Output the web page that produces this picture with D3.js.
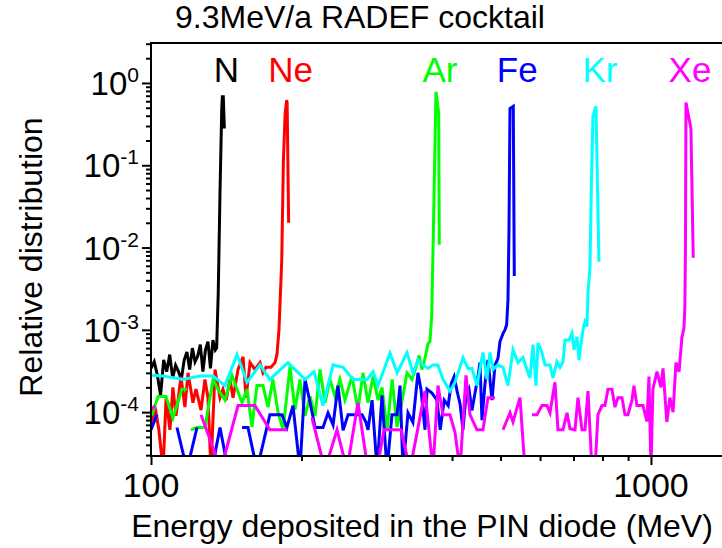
<!DOCTYPE html>
<html>
<head>
<meta charset="utf-8">
<script src="https://cdn.jsdelivr.net/npm/d3@7"></script>
<style>
  body { margin: 0; background: #fff; }
  text { font-family: "Liberation Sans", Arial, sans-serif; fill: #000; }
</style>
</head>
<body>
<div id="chart"></div>
<script>
// ---------------- data ----------------
var ionNames = ["N", "Ne", "Ar", "Fe", "Kr", "Xe"];
var ionColors = ["#000000", "#ff0000", "#00ff00", "#0000ff", "#00ffff", "#ff00ff"];

var nEnergy = [100,101.5,103,104.5,106,107.5,109,110.5,112,113.5,115,116.5,118,119.5,121,122.5,124,125.5,127,128.5,130,131.5,133,134.5,135.3,136.3,137.4,138.5,138.9,139.5,140.2];
var nValue = [3.4e-4,4.1e-4,2.8e-4,1.6e-4,4.3e-4,3.1e-4,5e-4,2.6e-4,3.7e-4,3.1e-4,2.5e-4,4.3e-4,5.4e-4,3.3e-4,6e-4,4.1e-4,4.8e-4,6.6e-4,3.1e-4,5.7e-4,7.2e-4,3.4e-4,7.5e-4,5.7e-4,6e-4,2.8e-3,0.046,0.47,0.68,0.68,0.28];

var neEnergy = [100,101.9,103.7,105.7,107.2,109.1,110.6,112.2,114.8,116.9,118.6,121.3,123,125.9,128.2,130,131.8,134.3,137.4,139.3,141.3,143.9,145.9,149.3,152.8,154.9,157.8,161.4,165.2,167.5,169.8,173.8,177,178.6,180.3,182.6,184,185.5,186.8,187.2,188.5];
var neValue = [6.1e-5,1.15e-4,6.1e-5,2e-5,1.5e-4,6.1e-5,2e-4,9e-5,2.7e-4,1.15e-4,3e-4,1.3e-4,1.9e-4,1.06e-4,2.5e-4,1.5e-4,2e-5,3.3e-4,1.5e-4,1.9e-4,1.4e-4,2.5e-4,1.5e-4,3.3e-4,4.7e-4,1.5e-4,4e-4,3.3e-4,4e-4,3e-4,3.5e-4,3.5e-4,4e-4,5e-4,1e-3,7e-3,0.116,0.43,0.62,0.57,0.02];

var arEnergy = [100.3,103.3,107.2,110.6,115.3,118,119.2,120.2,123.6,128.2,133.1,136.1,140.6,145.2,148.6,152.1,155.6,159.2,162.9,167.5,171.4,175.3,179.5,183.7,189.7,194,198.6,203.3,208,212.9,217.8,222.9,228,233.3,238.7,244.3,252.3,259.5,265.5,271.7,278.1,284.6,289.7,296.7,303.6,310.5,318,325.1,332.7,338.8,343.6,348.3,353.2,358.1,361.4,364.3,365.9,368.1,371.5,376.2,377.2];
var arValue = [9e-5,1.55e-4,1.55e-4,8.5e-5,1.9e-4,1.9e-4,null,6.1e-5,6.5e-5,6.5e-5,2.5e-4,1.9e-4,1.4e-4,2.8e-4,1.9e-4,1.3e-4,1.9e-4,6.6e-5,2.1e-4,2.1e-4,1.15e-4,2.5e-4,1e-4,6.1e-5,3.6e-4,1.07e-4,2.5e-4,9e-5,1.55e-4,9e-5,3.3e-4,1.3e-4,2.5e-4,1.55e-4,2.5e-4,1.4e-4,2.7e-4,1.07e-4,3e-4,1.3e-4,2.7e-4,1.4e-4,2e-4,6.1e-5,2.5e-4,6.6e-5,1.4e-4,3e-4,2.5e-4,3.5e-4,4.9e-4,3.3e-4,4.5e-4,6.8e-4,7.2e-4,1.5e-3,5.8e-3,0.038,0.78,0.43,0.0108];

var feEnergy = [100,102.8,107.6,112.7,118,123.6,128.2,132.4,137.4,142.6,147.2,152.1,156.3,162.9,172.9,182.8,187,192.3,198.6,203.3,208.1,212.9,220.8,226,231.3,236.6,242.2,247.8,264.3,269.2,271.7,276.8,283.3,289.7,296.5,303.4,310.5,314.8,319.2,326.6,334.1,341.9,346.7,353.2,356.5,364.8,373.2,378.8,385.9,393,398.4,403.9,409.5,415.2,420.7,426.6,432.5,438.5,444.6,450.8,455,459.2,465.6,472.1,480.9,487.5,494.3,498.9,505.8,510.5,514.4,517.6,520,522.4,530.4,532.9];
var feValue = [6.1e-5,9.3e-5,null,6.5e-5,2e-5,6.5e-5,null,2e-5,6.5e-5,2e-5,null,6.5e-5,6.5e-5,2e-5,9.3e-5,9.3e-5,6.5e-5,1.2e-4,2e-5,2.5e-4,1.3e-4,6.5e-5,6.5e-5,9.8e-5,7e-5,2.1e-4,6e-5,9.3e-5,9.3e-5,7.5e-5,6.1e-5,1.4e-4,2e-5,1.6e-4,2e-5,9.3e-5,9.3e-5,2.1e-4,2e-5,9.8e-5,7.5e-5,3e-4,1.9e-4,6.1e-5,1.9e-4,1.7e-4,1.4e-4,6.1e-5,1.4e-4,1.2e-4,2.2e-4,2.7e-4,1.8e-4,1.25e-4,6.1e-5,1.6e-4,1.9e-4,1.05e-4,1.7e-4,2.7e-4,4e-4,8e-5,2.2e-4,4.3e-4,1.4e-4,3.7e-4,4.5e-4,7.2e-4,9e-4,1e-3,1.15e-3,2.3e-3,0.016,0.49,0.52,4.5e-3];

var krEnergy = [100.3,105.7,115.9,125.3,133.1,140.6,148.6,155.6,165.2,172.9,187.9,203.3,211.9,220.8,231.3,242.2,253.5,270.4,278.1,284.6,300.6,310.7,325.1,334.3,342,350,358.1,366.4,374.8,383.7,396.3,405.5,420.7,430.5,438.5,448.7,461.3,469.9,476.4,483.1,494.3,505.8,517.6,529.7,542,554.6,564.9,572.8,580.8,588.8,594.3,605.3,613.8,628.1,636.8,648.6,657.7,666.8,673,685.5,695,701.5,711.2,717.8,731.1,737.9,744.7,748.2,755.1,760.3,765.6,776.2,787];
var krValue = [2.8e-4,2.75e-4,2.5e-4,2.75e-4,2.75e-4,2.1e-4,5e-4,2.3e-4,3.75e-4,2.5e-4,4e-4,2.5e-4,3.1e-4,1.2e-4,3.75e-4,3.5e-4,2.5e-4,2.5e-4,3.1e-4,2.1e-4,5.2e-4,3e-4,5.3e-4,3e-4,4.3e-4,3.75e-4,3.4e-4,3.75e-4,3.75e-4,2.5e-4,1.8e-4,2.3e-4,4.6e-4,3.4e-4,3.4e-4,2.1e-4,5.3e-4,2.5e-4,5.3e-4,3.3e-4,3.75e-4,3.5e-4,2.1e-4,5.7e-4,4e-4,4.6e-4,3.3e-4,2.6e-4,6.6e-4,2.1e-4,6.9e-4,5.3e-4,3.75e-4,3.75e-4,2.6e-4,4.1e-4,3.5e-4,4.1e-4,7.5e-4,7.5e-4,9.1e-4,5.7e-4,8.2e-4,4.3e-4,1e-3,1.25e-3,1.1e-3,2.8e-3,5.8e-3,0.066,0.4,0.52,6.7e-3];

var xeEnergy = [100,101.9,104.2,125.9,138,149.3,161.4,172.9,187.1,198.6,209.9,222.8,235.5,246.6,259.4,271.6,283.1,292.4,316.2,329.6,353.2,366.4,375,383.7,396.3,405.5,415,426.6,434.5,448.7,461.3,472.1,487.5,496.6,505.8,522.4,529.7,547,559.8,563.7,578.1,591.6,605.3,619.4,628.1,642.7,651.6,666.8,679.2,688.7,704.7,714.5,727.8,737.9,748.2,762.1,772.7,783.4,798,809.1,820.4,835.6,847.2,859,875,887.2,899.5,916.2,924.7,937.6,963.8,981.7,990.8,1000,1009,1028,1047,1057,1076,1091,1107,1122,1138,1153,1164,1169,1172,1175,1202,1215];
var xeValue = [1.07e-4,1.2e-4,null,9.3e-5,2e-5,1.2e-4,1.2e-4,6.1e-5,6.1e-5,null,8.5e-5,2e-5,6.1e-5,2e-5,1.3e-4,2e-5,2e-5,6.1e-5,6.1e-5,2e-5,1.8e-4,2e-5,2.1e-4,9.3e-5,9.3e-5,5.7e-5,2e-5,2.8e-4,9.3e-5,6.1e-5,6.1e-5,1.5e-4,1.5e-4,null,6.1e-5,9.8e-5,7.6e-5,1.5e-4,2e-5,null,9.3e-5,9.3e-5,1.2e-4,1.2e-4,9.8e-5,2.3e-4,6.1e-5,6.1e-5,9.8e-5,6.3e-5,6.1e-5,1.5e-4,6.1e-5,6.1e-5,1.8e-4,2e-5,2e-5,9.3e-5,1.2e-4,1.2e-4,1.9e-4,1.9e-4,1.15e-4,1.5e-4,1.5e-4,9.3e-5,9.3e-5,1.4e-4,2.1e-4,1.2e-4,1.2e-4,7.7e-5,2.7e-4,2e-5,1.9e-4,3.1e-4,2e-4,3.4e-4,7.6e-5,1.5e-4,1e-4,4e-4,3.1e-4,8e-4,1.05e-3,1.9e-3,9.3e-3,0.58,0.28,7.5e-3];

// tick values / labels
var xMajor = [100, 1000];
var xMajorLabels = ["100", "1000"];
var yMajor = [1e-4, 1e-3, 1e-2, 1e-1, 1];
var yExponents = ["-4", "-3", "-2", "-1", "0"];

var energies = [nEnergy, neEnergy, arEnergy, feEnergy, krEnergy, xeEnergy];
var values = [nValue, neValue, arValue, feValue, krValue, xeValue];

// ---------------- layout ----------------
var svgWidth = 722;
var svgHeight = 548;
var margin = {top: 43, right: 0, bottom: 92, left: 151};
var width = svgWidth - margin.left - margin.right;
var height = svgHeight - margin.top - margin.bottom;

var svg = d3.select("#chart")
  .append("svg")
  .attr("width", svgWidth)
  .attr("height", svgHeight);

var chartGroup = svg.append("g")
  .attr("transform", `translate(${margin.left}, ${margin.top})`);

var xScale = d3.scaleLog().domain([100, 1387]).range([0, width]);
var yScale = d3.scaleLog().domain([2.93e-5, 3.06]).range([height, 0]);

// minor ticks: 2..9 of every decade that falls in the domain
var xMinor = [];
[100, 1000].forEach(function(dec) {
  for (var k = 2; k <= 9; k++) {
    var v = dec * k;
    if (v <= xScale.domain()[1]) xMinor.push(v);
  }
});
var yMinor = [];
[1e-5, 1e-4, 1e-3, 1e-2, 1e-1, 1].forEach(function(dec) {
  for (var k = 2; k <= 9; k++) {
    var v = dec * k;
    if (v >= yScale.domain()[0] && v <= yScale.domain()[1]) yMinor.push(v);
  }
});

// ---------------- series ----------------
chartGroup.append("clipPath")
  .attr("id", "plot-clip")
  .append("rect")
  .attr("x", 0).attr("y", 0)
  .attr("width", width).attr("height", height);

var series = ionNames.map(function(name, i) {
  return {
    name: name,
    color: ionColors[i],
    points: energies[i].map(function(e, j) { return {e: e, v: values[i][j]}; })
  };
});

var line = d3.line()
  .defined(d => d.v != null)
  .x(d => xScale(d.e))
  .y(d => yScale(d.v));

var plot = chartGroup.append("g").attr("clip-path", "url(#plot-clip)");
plot.selectAll("path")
  .data(series)
  .enter()
  .append("path")
  .attr("fill", "none")
  .attr("stroke", d => d.color)
  .attr("stroke-width", 3)
  .attr("d", d => line(d.points));

// ion labels above each peak
chartGroup.selectAll(".ion")
  .data(series)
  .enter()
  .append("text")
  .attr("class", "ion")
  .attr("x", function(d) {
    var peak = d3.greatest(d.points, p => p.v);
    return xScale(peak.e) + 4;
  })
  .attr("y", yScale(1) - 1)
  .attr("text-anchor", "middle")
  .style("font-size", "35px")
  .style("fill", d => d.color)
  .text(d => d.name);

// ---------------- axes ----------------
var leftMajor = chartGroup.append("g")
  .call(d3.axisLeft(yScale).tickValues(yMajor).tickSize(9).tickFormat(""));
var leftMinor = chartGroup.append("g")
  .call(d3.axisLeft(yScale).tickValues(yMinor).tickSize(5).tickFormat(""));
var bottomMajor = chartGroup.append("g")
  .attr("transform", `translate(0, ${height})`)
  .call(d3.axisBottom(xScale).tickValues(xMajor).tickSize(9).tickFormat(""));
var bottomMinor = chartGroup.append("g")
  .attr("transform", `translate(0, ${height})`)
  .call(d3.axisBottom(xScale).tickValues(xMinor).tickSize(5).tickFormat(""));

[leftMajor, leftMinor, bottomMajor, bottomMinor].forEach(function(g) {
  g.select(".domain").remove();
  g.selectAll("line").attr("stroke", "#000").attr("stroke-width", 2);
});

// frame: left, top, bottom
chartGroup.append("path")
  .attr("d", `M${width},0H0V${height}H${width}`)
  .attr("fill", "none")
  .attr("stroke", "#000")
  .attr("stroke-width", 2);

// y tick labels 10^n
var yLabels = chartGroup.selectAll(".ylab")
  .data(yMajor)
  .enter()
  .append("text")
  .attr("class", "ylab")
  .attr("x", -12)
  .attr("y", d => yScale(d) + 12)
  .attr("text-anchor", "end")
  .style("font-size", "33px");
yLabels.append("tspan").text("10");
yLabels.append("tspan")
  .attr("dy", -13)
  .style("font-size", "21px")
  .text((d, i) => yExponents[i]);

// x tick labels
chartGroup.selectAll(".xlab")
  .data(xMajor)
  .enter()
  .append("text")
  .attr("class", "xlab")
  .attr("x", d => xScale(d))
  .attr("y", height + 41)
  .attr("text-anchor", "middle")
  .style("font-size", "34px")
  .text((d, i) => xMajorLabels[i]);

// axis titles
svg.append("text")
  .attr("x", 422)
  .attr("y", 537)
  .attr("text-anchor", "middle")
  .style("font-size", "32px")
  .text("Energy deposited in the PIN diode (MeV)");

svg.append("text")
  .attr("transform", "translate(42, 257) rotate(-90)")
  .attr("text-anchor", "middle")
  .style("font-size", "32px")
  .text("Relative distribution");

// chart title
svg.append("text")
  .attr("x", 360)
  .attr("y", 28)
  .attr("text-anchor", "middle")
  .style("font-size", "32px")
  .text("9.3MeV/a RADEF cocktail");
</script>
</body>
</html>
